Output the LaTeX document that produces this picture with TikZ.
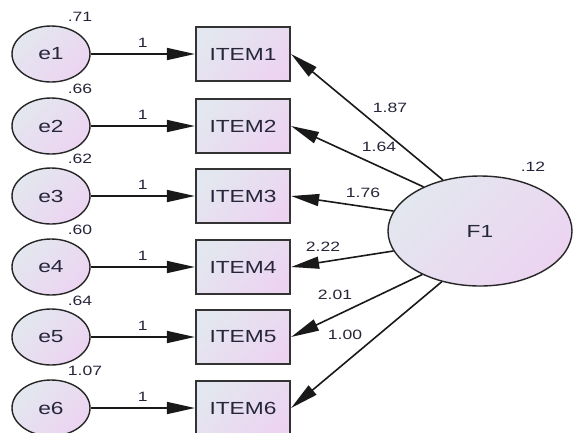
\documentclass[tikz,border=0pt]{standalone}
\usepackage{fontspec}
\setmainfont{Liberation Sans}[FakeStretch=1.3]
\usetikzlibrary{shapes.geometric,arrows.meta}
\definecolor{gA}{HTML}{E3E7EF}
\definecolor{gB}{HTML}{ECD4F1}
\definecolor{txt}{HTML}{26263A}
\begin{document}
\begin{tikzpicture}[x=1pt,y=-1pt,
  bigfont/.style={font=\fontsize{17.5}{20}\selectfont,text=txt},
  smallfont/.style={font=\fontsize{13.5}{15}\selectfont,text=txt,inner sep=0pt},
  errnode/.style={ellipse,draw=black!85,line width=1.4pt,minimum width=78pt,minimum height=56pt,inner sep=0pt,top color=gA,bottom color=gB,shading angle=45,bigfont},
  itembox/.style={rectangle,draw=black!80,line width=2.2pt,minimum width=94pt,minimum height=54pt,inner sep=0pt,top color=gA,bottom color=gB,shading angle=45,bigfont},
  latent/.style={ellipse,draw=black!85,line width=1.4pt,minimum width=184pt,minimum height=110pt,inner sep=0pt,top color=gA,bottom color=gB,shading angle=45,bigfont},
  arr/.style={line width=1.6pt,draw=black!90,-{Triangle[length=28pt,width=12pt]}}
]
\useasboundingbox (0,0) rectangle (573,432);
\fill[white] (0,0) rectangle (573,432);
\foreach \i/\y in {1/54,2/126,3/196,4/267,5/337,6/408}{
  \node[errnode] (e\i) at (51,\y) {e\i};
  \node[itembox] (I\i) at (243,\y) {ITEM\i};
  \draw[arr] (e\i) -- (I\i) node[smallfont,midway,above=6pt] (one\i) {1};
}
\node[smallfont] (v1) at (80,17) {.71};
\node[smallfont] (v2) at (80,89) {.66};
\node[smallfont] (v3) at (80,159) {.62};
\node[smallfont] (v4) at (80,230) {.60};
\node[smallfont] (v5) at (80,301) {.64};
\node[smallfont] (v6) at (85,371) {1.07};
\node[latent] (F1) at (480,231) {F1};
\node[smallfont] (vF) at (533,167) {.12};
\draw[arr] (F1.126.7) -- (I1.east);
\draw[arr] (F1.142.8) -- (I2.east);
\draw[arr] (F1.167.7) -- (I3.east);
\draw[arr] (F1.193.4) -- (I4.east);
\draw[arr] (F1.217.2) -- (I5.east);
\draw[arr] (F1.233.3) -- (I6.east);
\node[smallfont] (l1) at (390,108) {1.87};
\node[smallfont] (l2) at (379,147) {1.64};
\node[smallfont] (l3) at (363,193) {1.76};
\node[smallfont] (l4) at (323,247) {2.22};
\node[smallfont] (l5) at (335,295) {2.01};
\node[smallfont] (l6) at (345,335) {1.00};
\end{tikzpicture}
\end{document}
